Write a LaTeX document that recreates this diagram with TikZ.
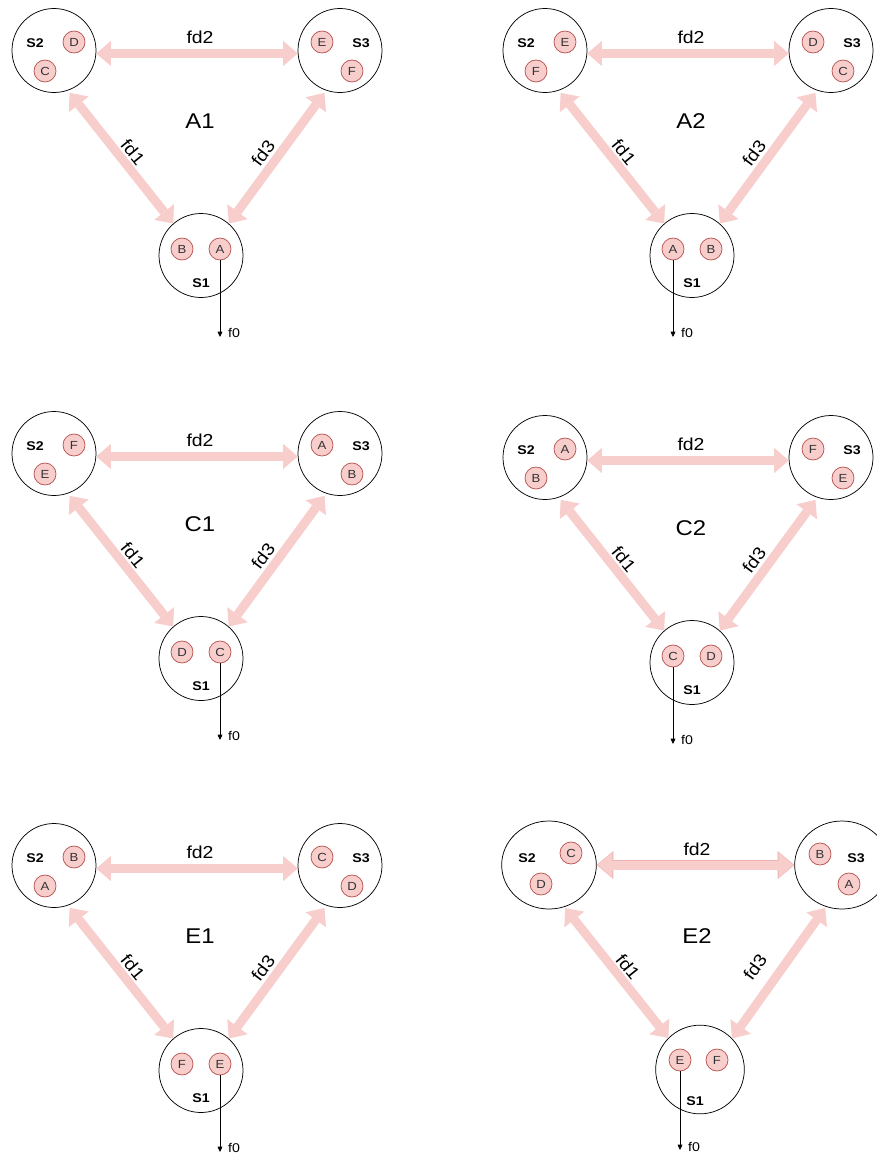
\documentclass[tikz,border=0pt]{standalone}
\usepackage{fontspec}
\setmainfont{Liberation Sans}
\newfontfamily\widefont[FakeStretch=1.12]{Liberation Sans}
\usetikzlibrary{arrows.meta,shapes.geometric,calc}
\definecolor{pk}{HTML}{F8CECC}
\definecolor{pkd}{HTML}{B85450}
\definecolor{pko}{HTML}{EDB3AF}
\definecolor{tx}{HTML}{333333}
\tikzset{
  site/.style={circle, draw=black, line width=0.55pt, minimum size=63pt, inner sep=0pt},
  frag/.style={circle, draw=pkd, fill=pk, line width=0.55pt, minimum size=16.5pt, inner sep=0pt,
    font=\widefont\fontsize{8.8}{9}\selectfont, text=tx},
  slab/.style={font=\widefont\bfseries\fontsize{9.5}{10}\selectfont},
  ttl/.style={font=\widefont\fontsize{16}{18}\selectfont},
  fdl/.style={font=\widefont\fontsize{13}{14}\selectfont},
  f0l/.style={font=\widefont\fontsize{9.5}{10}\selectfont},
  flex/.style={draw=pk, line width=6.75pt,
    {Triangle[width=19pt,length=11pt,line width=0pt]}-{Triangle[width=19pt,length=11pt,line width=0pt]}},
  flexo/.style={draw=pko, line width=8.2pt,
    {Triangle[width=21pt,length=12.5pt,line width=0pt]}-{Triangle[width=21pt,length=12.5pt,line width=0pt]}},
  outarrow/.style={draw=black, line width=0.5pt, -{Triangle[width=3.6pt,length=4pt]}},
}
% #1 prefix/title, #2 ox, #3 oy, #4 S2 top, #5 S2 low, #6 S3 top, #7 S3 low, #8 S1 left, #9 S1 right
\newcommand\drawpanel[9]{%
  \begin{scope}[shift={(#2,#3)}]
    \node[site] (#1s2) at (54,50.5) {};
    \node[site] (#1s3) at (340,50.5) {};
    \node[site] (#1s1) at (201,255.5) {};
    \node[slab] (#1l2) at (35,43) {S2};
    \node[frag] (#1p) at (74,42) {#4};
    \node[frag] (#1q) at (45,71) {#5};
    \node[slab] (#1l3) at (361,43) {S3};
    \node[frag] (#1r) at (322,42) {#6};
    \node[frag] (#1t) at (352,71) {#7};
    \node[slab] (#1l1) at (201,283) {S1};
    \node[frag] (#1a) at (182,249) {#8};
    \node[frag] (#1b) at (220,249) {#9};
    \node[ttl] (#1title) at (200,121) {#1};
    \node[fdl] (#1fd2) at (200,37) {fd2};
    \node[fdl, rotate=-50.6] (#1fd1) at (133,152) {fd1};
    \node[fdl, rotate=53] (#1fd3) at (263,153) {fd3};
    \draw[flex] (#1s2.-4.7) -- (#1s3.184.7);
    \draw[flex, shorten <=2.2pt] (#1s2.-71) -- (#1s1.131);
    \draw[flex, shorten <=2.2pt] (#1s3.-109) -- (#1s1.49);
    \coordinate (#1end) at (#1\fs |- 0,337);
    \draw[outarrow] (#1\fs.south) -- (#1end);
    \node[f0l] (#1f0) at ($(#1end)+(14,-4)$) {f0};
  \end{scope}}
\begin{document}
\begin{tikzpicture}[x=0.75pt, y=-0.75pt]
\useasboundingbox (0,0) rectangle (876,1153);
\def\fs{b}\drawpanel{A1}{0}{0}{D}{C}{E}{F}{B}{A}
\def\fs{a}\drawpanel{A2}{491}{0}{E}{F}{D}{C}{A}{B}
\def\fs{b}\drawpanel{C1}{0}{403}{F}{E}{A}{B}{D}{C}
\def\fs{a}\drawpanel{C2}{491}{407}{A}{B}{F}{E}{C}{D}
\def\fs{b}\drawpanel{E1}{0}{815}{B}{A}{C}{D}{F}{E}
% E2 panel
\node[ellipse, draw=black, line width=0.55pt, minimum width=71pt, minimum height=66pt, inner sep=0pt] (E2s2) at (549,865) {};
\node[ellipse, draw=black, line width=0.55pt, minimum width=71pt, minimum height=66pt, inner sep=0pt] (E2s3) at (842,865) {};
\node[circle, draw=black, line width=0.55pt, minimum size=66.5pt, inner sep=0pt] (E2s1) at (700,1069.5) {};
\node[slab] (E2l2) at (527,858) {S2};
\node[frag] (E2p) at (571,853) {C};
\node[frag] (E2q) at (541,884) {D};
\node[slab] (E2l3) at (856,858) {S3};
\node[frag] (E2r) at (820,854) {B};
\node[frag] (E2t) at (849,884) {A};
\node[slab] (E2l1) at (695,1101) {S1};
\node[frag] (E2a) at (680,1060) {E};
\node[frag] (E2b) at (717,1060) {F};
\node[ttl] (E2title) at (697,936) {E2};
\node[fdl] (E2fd2) at (697,849) {fd2};
\node[fdl, rotate=-51.2] (E2fd1) at (628,967) {fd1};
\node[fdl, rotate=54.4] (E2fd3) at (755,967) {fd3};
\draw[flexo] (E2s2.east) -- (E2s3.west);
\draw[flex, shorten <=0.8pt, shorten >=0.8pt] (E2s2.east) -- (E2s3.west);
\draw[flex, shorten <=1pt] (E2s2.-70.4) -- (E2s1.135.5);
\draw[flex, shorten <=1pt] (E2s3.-111.6) -- (E2s1.44.5);
\coordinate (E2end) at (E2a |- 0,1150);
\draw[outarrow] (E2a.south) -- (E2end);
\node[f0l] (E2f0) at ($(E2end)+(14,-3)$) {f0};
\end{tikzpicture}
\end{document}
